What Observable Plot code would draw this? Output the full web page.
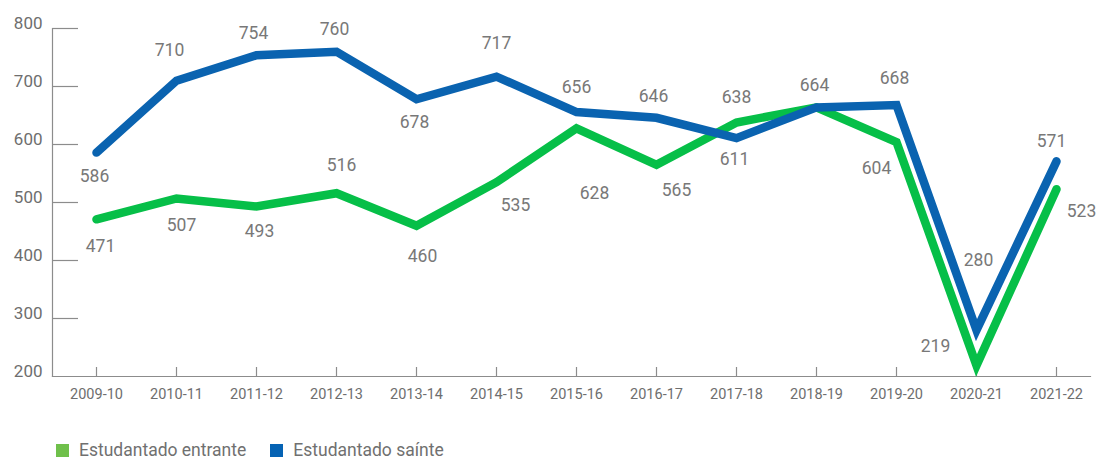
<!DOCTYPE html>
<html>
<head>
<meta charset="utf-8">
<script src="https://cdn.jsdelivr.net/npm/d3@7"></script>
<script src="https://cdn.jsdelivr.net/npm/@observablehq/plot@0.6"></script>
<style>
  html, body { margin: 0; padding: 0; background: #fff; }
  body { font-family: Roboto, "Noto Sans", sans-serif; width: 1100px; height: 460px; overflow: hidden; }
  #chart svg { display: block; }
  #legend { display: flex; align-items: center; padding-left: 56px; margin-top: 30px; font-size: 17.5px; color: #707070; line-height: 20px; }
  .item { display: flex; align-items: center; margin-right: 24px; }
  .sw { width: 13px; height: 13px; margin-right: 10px; }
</style>
</head>
<body>
<div id="chart"></div>
<div id="legend"></div>
<script>
const years = ["2009-10","2010-11","2011-12","2012-13","2013-14","2014-15","2015-16","2016-17","2017-18","2018-19","2019-20","2020-21","2021-22"];
const entrante = [471,507,493,516,460,535,628,565,638,664,604,219,523];
const sainte   = [586,710,754,760,678,717,656,646,611,664,668,280,571];
const yTicks = [200,300,400,500,600,700,800];
const seriesNames = ["Estudantado entrante","Estudantado saínte"];

// label placement offsets (pixels) relative to each point
const entranteDx = [4,5,3,5,6,19,18,20,0,0,-20,-41,25];
const entranteDy = [27,27,25,-28,31,23,65,26,-25,0,26,-19,22];
const sainteDx = [-2,-7,-3,-2,-2,0,0,-3,-2,-2,-2,2,-5];
const sainteDy = [24,-30,-22,-22,23,-33,-25,-21,21,-22,-27,-70,-20];

const green = "#06bf48";
const blue = "#0a63b0";
const legendGreen = "#6fc04b";
const legendBlue = "#0563b4";

const rows = [];
years.forEach((yr, i) => {
  rows.push({year: yr, value: entrante[i], series: seriesNames[0], dx: entranteDx[i], dy: entranteDy[i], show: entrante[i] !== sainte[i]});
});
years.forEach((yr, i) => {
  rows.push({year: yr, value: sainte[i], series: seriesNames[1], dx: sainteDx[i], dy: sainteDy[i], show: true});
});

const W = 1100, H = 410, mL = 52, mR = 10, mT = 28, mB = 34;
const frameW = W - mL - mR, frameH = H - mT - mB;

const labelMarks = rows.filter(d => d.show).map(d =>
  Plot.text([d], {x: "year", y: "value", text: d => String(d.value), dx: d.dx, dy: d.dy,
    fontSize: 17.5, fill: "#787878"})
);

const chart = Plot.plot({
  width: W, height: H,
  marginLeft: mL, marginRight: mR, marginTop: mT, marginBottom: mB,
  style: {fontFamily: "Roboto, sans-serif", background: "#fff"},
  x: {type: "point", domain: years, range: [92, 1060], padding: 0, label: null},
  y: {domain: [200, 800], label: null},
  marks: [
    Plot.ruleY(yTicks.filter(t => t > 200), {y: d => d, stroke: "#8c8c8c", strokeWidth: 1.2, insetRight: frameW - 26}),
    Plot.frame({anchor: "left", stroke: "#8c8c8c", strokeWidth: 1.2}),
    Plot.frame({anchor: "bottom", stroke: "#8c8c8c", strokeWidth: 1.2}),
    Plot.ruleX(years, {x: d => d, stroke: "#8c8c8c", strokeWidth: 1.2, insetTop: frameH - 9}),
    Plot.axisY(yTicks, {tickSize: 0, tickPadding: 10, dy: -5, fontSize: 17, fill: "#6e6e6e", label: null}),
    Plot.axisX(years, {tickSize: 0, tickPadding: 12, fontSize: 14.5, fill: "#6e6e6e", label: null}),
    Plot.line(rows.filter(d => d.series === seriesNames[0]), {x: "year", y: "value", stroke: green, strokeWidth: 8.5, strokeLinejoin: "miter", strokeMiterlimit: 20}),
    Plot.line(rows.filter(d => d.series === seriesNames[1]), {x: "year", y: "value", stroke: blue, strokeWidth: 8.5, strokeLinejoin: "miter", strokeMiterlimit: 20}),
    ...labelMarks
  ]
});
document.getElementById("chart").appendChild(chart);

const legend = document.getElementById("legend");
[[seriesNames[0], legendGreen], [seriesNames[1], legendBlue]].forEach(([name, col]) => {
  const it = document.createElement("div");
  it.className = "item";
  const sw = document.createElement("div");
  sw.className = "sw";
  sw.style.background = col;
  const tx = document.createElement("span");
  tx.textContent = name;
  it.appendChild(sw); it.appendChild(tx);
  legend.appendChild(it);
});
</script>
</body>
</html>
